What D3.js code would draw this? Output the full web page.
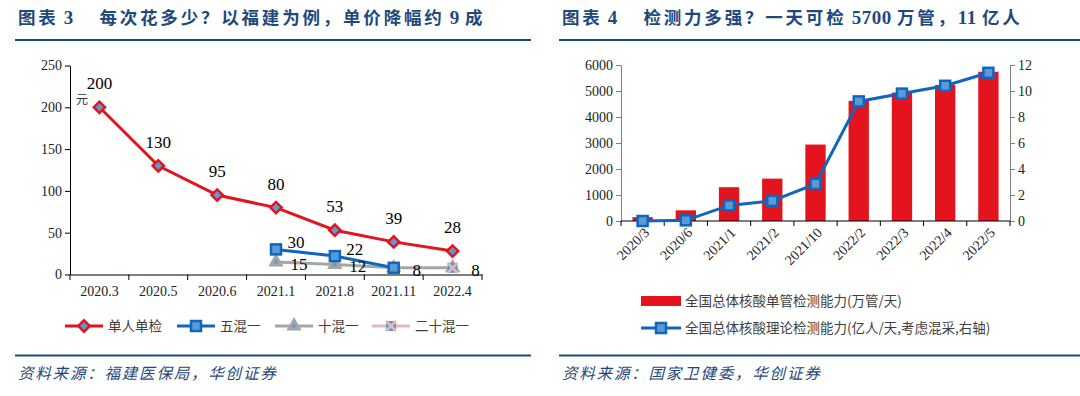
<!DOCTYPE html>
<html>
<head>
<meta charset="utf-8">
<script src="https://cdn.jsdelivr.net/npm/d3@7"></script>
<style>
  body { margin: 0; background: #fff; }
  svg { display: block; }
  text { font-family: "Liberation Serif", "Times New Roman", serif; }
  .cn { font-family: "Noto Sans CJK SC", sans-serif; }
</style>
</head>
<body>
<svg id="chart" width="1080" height="396"></svg>
<script>
// left chart data (price per test, yuan)
var priceDates = ["2020.3", "2020.5", "2020.6", "2021.1", "2021.8", "2021.11", "2022.4"];
var single = [200, 130, 95, 80, 53, 39, 28];
var mix5 = [null, null, null, 30, 22, 8, null];
var mix10 = [null, null, null, 15, 12, 8, 8];
var mix20 = [null, null, null, null, null, null, 8];
var priceTicks = [0, 50, 100, 150, 200, 250];

// right chart data (capacity)
var capDates = ["2020/3", "2020/6", "2021/1", "2021/2", "2021/10", "2022/2", "2022/3", "2022/4", "2022/5"];
var tubes = [150, 410, 1300, 1630, 2940, 4620, 4940, 5230, 5740];   // 万管/天
var people = [0, 0.05, 1.2, 1.55, 2.85, 9.2, 9.8, 10.4, 11.4];       // 亿人/天
var tubeTicks = [0, 1000, 2000, 3000, 4000, 5000, 6000];
var peopleTicks = [0, 2, 4, 6, 8, 10, 12];

var titleBlue = "#1f497d";
var red = "#e3141d";
var blue = "#0f66bd";
var lightBlue = "#5b9bd5";
var gray = "#a5a5a5";
var pink = "#e6b9b8";

var svg = d3.select("#chart");

// ---------- headers and footers ----------
function header(x0, x1, parts) {
    var t = svg.append("text")
        .attr("class", "cn")
        .attr("x", x0 + 3)
        .attr("y", 24)
        .attr("fill", titleBlue)
        .style("font-size", "17.5px")
        .style("font-weight", "bold")
        .style("white-space", "pre")
        .style("letter-spacing", "2.8px");
    // numbers in serif, the rest in CJK font
    parts.forEach(function (p) {
        var s = t.append("tspan").text(p);
        if (/^[\d ]+$/.test(p)) {
            s.style("font-family", "'Liberation Serif', serif")
                .style("font-size", "19px")
                .style("letter-spacing", "0.5px");
        }
    });
    svg.append("line")
        .attr("x1", x0).attr("x2", x1)
        .attr("y1", 40).attr("y2", 40)
        .attr("stroke", titleBlue).attr("stroke-width", 2);
}
function footer(x0, x1, label) {
    svg.append("line")
        .attr("x1", x0).attr("x2", x1)
        .attr("y1", 355.5).attr("y2", 355.5)
        .attr("stroke", titleBlue).attr("stroke-width", 2);
    svg.append("text")
        .attr("class", "cn")
        .attr("x", x0 + 3)
        .attr("y", 379)
        .attr("fill", titleBlue)
        .style("font-size", "15.5px")
        .style("font-style", "italic")
        .style("letter-spacing", "1.8px")
        .text(label);
}
header(15, 531, ["图表", " 3 ", "   每次花多少？以福建为例，单价降幅约", " 9 ", "成"]);
header(559, 1080, ["图表", " 4 ", "   检测力多强？一天可检", " 5700 ", "万管，", "11 ", "亿人"]);
footer(15, 531, "资料来源：福建医保局，华创证券");
footer(559, 1080, "资料来源：国家卫健委，华创证券");

// ---------- left chart ----------
var x1 = d3.scaleBand().domain(priceDates).range([70, 482]);
var y1 = d3.scaleLinear().domain([0, 250]).range([274.5, 65.5]);
var left = svg.append("g");

var yAxis1 = left.append("g")
    .attr("transform", "translate(70,0)")
    .call(d3.axisLeft(y1).tickValues(priceTicks).tickSize(5).tickSizeOuter(0));
yAxis1.selectAll("text").style("font-size", "14px").style("font-family", "'Liberation Serif', serif").attr("fill", "#222");

var xAxis1 = left.append("g")
    .attr("transform", "translate(0,274.5)")
    .call(d3.axisBottom(x1).tickSize(0).tickSizeOuter(0).tickPadding(12));
xAxis1.selectAll("text").style("font-size", "14px").style("font-family", "'Liberation Serif', serif").attr("fill", "#222");
left.selectAll(".xb1")
    .data(priceDates.concat(["end"]))
    .enter().append("line")
    .attr("x1", (d, i) => i < priceDates.length ? x1(d) : x1.range()[1])
    .attr("x2", (d, i) => i < priceDates.length ? x1(d) : x1.range()[1])
    .attr("y1", 274.5).attr("y2", 280)
    .attr("stroke", "#000");

left.append("text")
    .attr("class", "cn")
    .attr("x", 82).attr("y", 104)
    .attr("text-anchor", "middle")
    .style("font-size", "12px")
    .attr("fill", "#333")
    .text("元");

function cx1(i) { return x1(priceDates[i]) + x1.bandwidth() / 2; }

function drawSeries(g, vals, color, width) {
    var line = d3.line()
        .defined(d => d != null)
        .x((d, i) => cx1(i))
        .y(d => y1(d));
    g.append("path")
        .datum(vals)
        .attr("d", line)
        .attr("fill", "none")
        .attr("stroke", color)
        .attr("stroke-width", width);
}

function marker(g, type, x, y) {
    if (type === "diamond") {
        g.append("rect")
            .attr("x", -4).attr("y", -4).attr("width", 8).attr("height", 8)
            .attr("transform", `translate(${x},${y}) rotate(45)`)
            .attr("fill", lightBlue).attr("stroke", red).attr("stroke-width", 2.5);
    } else if (type === "square") {
        g.append("rect")
            .attr("x", x - 5).attr("y", y - 5).attr("width", 10).attr("height", 10)
            .attr("fill", lightBlue).attr("stroke", blue).attr("stroke-width", 2.5);
    } else if (type === "triangle") {
        g.append("path")
            .attr("d", d3.symbol(d3.symbolTriangle, 45)())
            .attr("transform", `translate(${x},${y})`)
            .attr("fill", lightBlue).attr("stroke", gray).attr("stroke-width", 3);
    } else if (type === "cross") {
        g.append("rect")
            .attr("x", x - 5).attr("y", y - 5).attr("width", 10).attr("height", 10)
            .attr("fill", lightBlue);
        g.append("path")
            .attr("d", `M${x - 5},${y - 5}L${x + 5},${y + 5}M${x - 5},${y + 5}L${x + 5},${y - 5}`)
            .attr("stroke", pink).attr("stroke-width", 2.5);
    }
}

drawSeries(left, mix10, gray, 3);
drawSeries(left, mix5, blue, 3);
drawSeries(left, single, red, 3);

mix10.forEach((v, i) => { if (v != null) marker(left, "triangle", cx1(i), y1(v)); });
mix5.forEach((v, i) => { if (v != null) marker(left, "square", cx1(i), y1(v)); });
mix20.forEach((v, i) => { if (v != null) marker(left, "cross", cx1(i), y1(v)); });
single.forEach((v, i) => marker(left, "diamond", cx1(i), y1(v)));

// data labels
single.forEach(function (v, i) {
    left.append("text")
        .attr("x", cx1(i)).attr("y", y1(v) - 18)
        .attr("text-anchor", "middle")
        .style("font-size", "17px")
        .text(v);
});
mix5.forEach(function (v, i) {
    if (v == null || i === 5) return;
    left.append("text")
        .attr("x", cx1(i) + 20).attr("y", y1(v) - 1)
        .attr("text-anchor", "middle")
        .style("font-size", "17px")
        .text(v);
});
mix10.forEach(function (v, i) {
    if (v == null) return;
    left.append("text")
        .attr("x", cx1(i) + 23).attr("y", y1(v) + 8)
        .attr("text-anchor", "middle")
        .style("font-size", "17px")
        .text(v);
});

// left legend
var legend1 = [
    { name: "单人单检", color: red, type: "diamond", x: 65 },
    { name: "五混一", color: blue, type: "square", x: 177 },
    { name: "十混一", color: gray, type: "triangle", x: 275 },
    { name: "二十混一", color: pink, type: "cross", x: 372 }
];
legend1.forEach(function (d) {
    left.append("line")
        .attr("x1", d.x).attr("x2", d.x + 38)
        .attr("y1", 326).attr("y2", 326)
        .attr("stroke", d.color).attr("stroke-width", 3);
    marker(left, d.type, d.x + 19, 326);
    left.append("text")
        .attr("class", "cn")
        .attr("x", d.x + 43).attr("y", 326)
        .attr("dy", "0.35em")
        .style("font-size", "13.5px")
        .attr("fill", "#404040")
        .text(d.name);
});

// ---------- right chart ----------
var x2 = d3.scaleBand().domain(capDates).range([621, 1010]);
var yL = d3.scaleLinear().domain([0, 6000]).range([221, 65]);
var yR = d3.scaleLinear().domain([0, 12]).range([221, 65]);
var right = svg.append("g");

function cx2(d) { return x2(d) + x2.bandwidth() / 2; }
var barW = x2.bandwidth() * 0.47;

right.selectAll(".bar")
    .data(tubes)
    .enter().append("rect")
    .attr("x", (d, i) => cx2(capDates[i]) - barW / 2)
    .attr("y", d => yL(d))
    .attr("width", barW)
    .attr("height", d => yL(0) - yL(d))
    .attr("fill", red);

var axL = right.append("g")
    .attr("transform", "translate(621,0)")
    .call(d3.axisLeft(yL).tickValues(tubeTicks).tickFormat(d3.format("d")).tickSize(5).tickSizeOuter(0));
axL.select(".domain").attr("stroke", "#7f7f7f");
axL.selectAll("line").attr("stroke", "#7f7f7f");
axL.selectAll("text").style("font-size", "14px").style("font-family", "'Liberation Serif', serif").attr("fill", "#222");

var axR = right.append("g")
    .attr("transform", "translate(1010,0)")
    .call(d3.axisRight(yR).tickValues(peopleTicks).tickSize(5).tickSizeOuter(0));
axR.select(".domain").attr("stroke", "#7f7f7f");
axR.selectAll("line").attr("stroke", "#7f7f7f");
axR.selectAll("text").style("font-size", "14px").style("font-family", "'Liberation Serif', serif").attr("fill", "#222");

right.append("line")
    .attr("x1", 621).attr("x2", 1010)
    .attr("y1", 221).attr("y2", 221)
    .attr("stroke", "#000");
right.selectAll(".xb2")
    .data(capDates.concat(["end"]))
    .enter().append("line")
    .attr("x1", (d, i) => i < capDates.length ? x2(d) : x2.range()[1])
    .attr("x2", (d, i) => i < capDates.length ? x2(d) : x2.range()[1])
    .attr("y1", 221).attr("y2", 226)
    .attr("stroke", "#000");
right.selectAll(".xl2")
    .data(capDates)
    .enter().append("text")
    .attr("transform", d => `translate(${cx2(d) + 4},${230}) rotate(-45)`)
    .attr("text-anchor", "end")
    .attr("dy", "0.35em")
    .style("font-size", "14px")
    .attr("fill", "#222")
    .text(d => d);

var line2 = d3.line()
    .x((d, i) => cx2(capDates[i]))
    .y(d => yR(d));
right.append("path")
    .datum(people)
    .attr("d", line2)
    .attr("fill", "none")
    .attr("stroke", blue)
    .attr("stroke-width", 3);
people.forEach((v, i) => marker(right, "square", cx2(capDates[i]), yR(v)));

// right legend
right.append("rect")
    .attr("x", 641).attr("y", 296).attr("width", 40).attr("height", 10)
    .attr("fill", red);
right.append("text")
    .attr("class", "cn")
    .attr("x", 685).attr("y", 301).attr("dy", "0.35em")
    .style("font-size", "13.5px").attr("fill", "#404040")
    .text("全国总体核酸单管检测能力(万管/天)");
right.append("line")
    .attr("x1", 641).attr("x2", 681)
    .attr("y1", 328).attr("y2", 328)
    .attr("stroke", blue).attr("stroke-width", 3);
marker(right, "square", 661, 328);
right.append("text")
    .attr("class", "cn")
    .attr("x", 685).attr("y", 328).attr("dy", "0.35em")
    .style("font-size", "13.5px").attr("fill", "#404040")
    .text("全国总体核酸理论检测能力(亿人/天,考虑混采,右轴)");
</script>
</body>
</html>
